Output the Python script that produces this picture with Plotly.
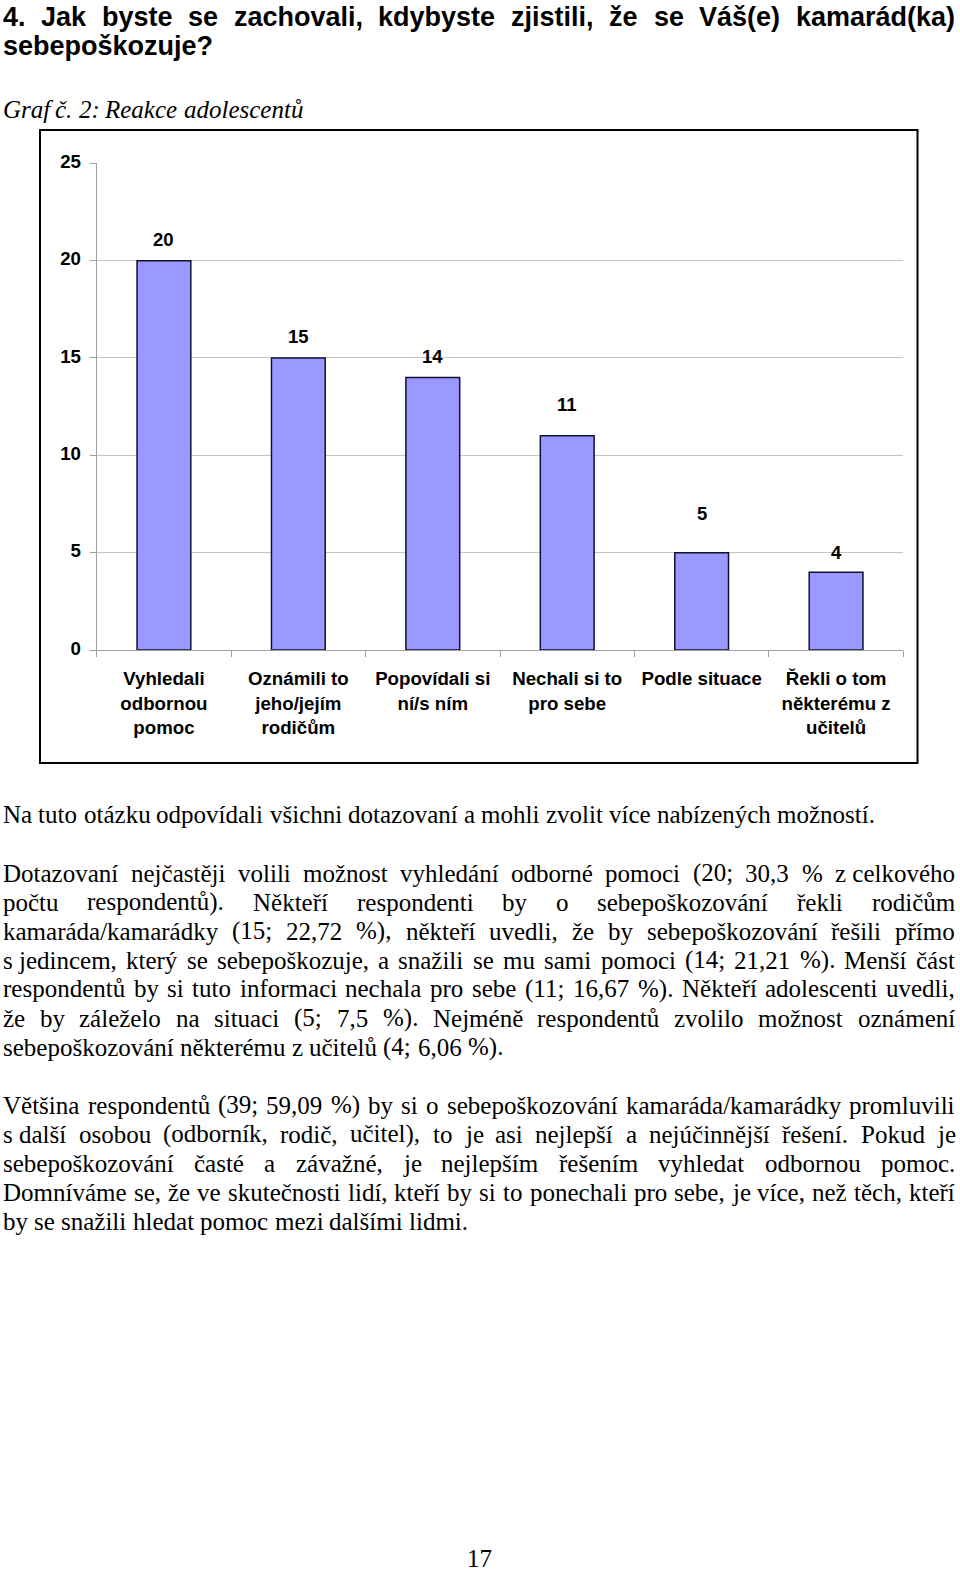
import unicodedata
import plotly.graph_objects as go

# ---------------- data ----------------
categories = [
    "Vyhledali<br>odbornou<br>pomoc",
    "Oznámili to<br>jeho/jejím<br>rodičům",
    "Popovídali si<br>ní/s ním",
    "Nechali si to<br>pro sebe",
    "Podle situace",
    "Řekli o tom<br>některému z<br>učitelů",
]
counts = [20, 15, 14, 11, 5, 4]
y_ticks = [0, 5, 10, 15, 20, 25]

heading_lines = [
    "4. Jak byste se zachovali, kdybyste zjistili, že se Váš(e) kamarád(ka)",
    "sebepoškozuje?",
]
caption = "Graf č. 2: Reakce adolescentů"
paragraphs = [
    ["Na tuto otázku odpovídali všichni dotazovaní a mohli zvolit více nabízených možností."],
    [
        "Dotazovaní nejčastěji volili možnost vyhledání odborné pomoci (20; 30,3 % z\u00a0celkového",
        "počtu respondentů). Někteří respondenti by o sebepoškozování řekli rodičům",
        "kamaráda/kamarádky (15; 22,72 %), někteří uvedli, že by sebepoškozování řešili přímo",
        "s\u00a0jedincem, který se sebepoškozuje, a snažili se mu sami pomoci (14; 21,21 %). Menší část",
        "respondentů by si tuto informaci nechala pro sebe (11; 16,67 %). Někteří adolescenti uvedli,",
        "že by záleželo na situaci (5; 7,5 %). Nejméně respondentů zvolilo možnost oznámení",
        "sebepoškozování některému z učitelů (4; 6,06 %).",
    ],
    [
        "Většina respondentů (39; 59,09 %) by si o sebepoškozování kamaráda/kamarádky promluvili",
        "s\u00a0další osobou (odborník, rodič, učitel), to je asi nejlepší a nejúčinnější řešení. Pokud je",
        "sebepoškozování časté a závažné, je nejlepším řešením vyhledat odbornou pomoc.",
        "Domníváme se, že ve skutečnosti lidí, kteří by si to ponechali pro sebe, je více, než těch, kteří",
        "by se snažili hledat pomoc mezi dalšími lidmi.",
    ],
]
page_number = "17"

# ---------------- styles ----------------
W, H = 960, 1573
label_offsets = [21, 21, 21, 31, 39, 20]
bar_color = "#9999FF"
SANS = "Liberation Sans, Arial, sans-serif"
SERIF = "Liberation Serif, Times New Roman, serif"

TIMES = dict(zip("abcdefghijklmnopqrstuvwxyz",
                 [444, 500, 444, 500, 444, 333, 500, 500, 278, 278, 500, 278, 778,
                  500, 500, 500, 500, 333, 389, 278, 500, 500, 722, 500, 500, 444]))
TIMES.update(zip("ABCDEFGHIJKLMNOPQRSTUVWXYZ",
                 [722, 667, 667, 722, 611, 556, 722, 722, 333, 389, 722, 611, 889,
                  722, 722, 556, 722, 667, 556, 611, 722, 722, 944, 722, 722, 611]))
TIMES.update({d: 500 for d in "0123456789"})
TIMES.update({" ": 250, "\u00a0": 250, ".": 250, ",": 250, ";": 278, ":": 278,
              "(": 333, ")": 333, "%": 833, "/": 278, "-": 333, "?": 444})

ARIALB = dict(zip("abcdefghijklmnopqrstuvwxyz",
                  [556, 611, 556, 611, 556, 333, 611, 611, 278, 278, 556, 278, 889,
                   611, 611, 611, 611, 389, 556, 333, 611, 556, 778, 556, 556, 500]))
ARIALB.update(zip("ABCDEFGHIJKLMNOPQRSTUVWXYZ",
                  [722, 722, 722, 722, 667, 611, 778, 722, 278, 556, 722, 611, 833,
                   722, 778, 667, 778, 722, 667, 611, 722, 667, 944, 667, 667, 611]))
ARIALB.update({d: 556 for d in "0123456789"})
ARIALB.update({" ": 278, "\u00a0": 278, ".": 278, ",": 278, ";": 333, ":": 333,
               "(": 333, ")": 333, "?": 611, "/": 278})


def tw(s, table, size):
    tot = 0
    for ch in s:
        base = unicodedata.normalize("NFD", ch)[0]
        tot += table.get(ch, table.get(base, 500))
    return tot * size / 1000.0


annotations = []


def add_line(line, ypx, size, family, table, justify, left=3, right=955, bold=False, italic=False):
    tokens = line.split(" ")
    widths = [tw(t, table, size) for t in tokens]
    space = table[" "] * size / 1000.0
    if justify and len(tokens) > 1:
        gap = (right - left - sum(widths)) / (len(tokens) - 1)
        gap = max(gap, space * 0.5)
    else:
        gap = space
    x = left
    for t, w in zip(tokens, widths):
        txt = t.replace("\u00a0", " ")
        if bold:
            txt = "<b>" + txt + "</b>"
        if italic:
            txt = "<i>" + txt + "</i>"
        annotations.append(dict(
            x=x / W, y=1 - ypx / H, xref="paper", yref="paper",
            xanchor="left", yanchor="middle", showarrow=False,
            text=txt, borderpad=0, borderwidth=0,
            font=dict(family=family, size=size, color="black"),
        ))
        x += w + gap


# heading
add_line(heading_lines[0], 17, 27, SANS, ARIALB, True, bold=True)
add_line(heading_lines[1], 46, 27, SANS, ARIALB, False, bold=True)
# caption
add_line(caption, 109, 25, SERIF, TIMES, False, italic=True)
# paragraphs
para_y = [[815], [873, 902, 931, 960, 989, 1018, 1047], [1105, 1134, 1163, 1192, 1221]]
for lines, ys in zip(paragraphs, para_y):
    for i, (ln, yy) in enumerate(zip(lines, ys)):
        add_line(ln, yy, 25, SERIF, TIMES, i < len(lines) - 1)

annotations.append(dict(
    x=479 / W, y=1 - 1558 / H, xref="paper", yref="paper", xanchor="center",
    yanchor="middle", showarrow=False, text=page_number,
    font=dict(family=SERIF, size=25, color="black"),
))

# data labels
for c, v, off in zip(categories, counts, label_offsets):
    annotations.append(dict(
        x=c, y=v, xref="x", yref="y", yshift=off, showarrow=False,
        xanchor="center", yanchor="middle", text="<b>%d</b>" % v,
        font=dict(family=SANS, size=18.5, color="black"),
    ))

fig = go.Figure(go.Bar(
    x=categories, y=counts,
    marker=dict(color=bar_color, line=dict(color="#101030", width=1.5)),
    hoverinfo="x+y",
))

plot_left, plot_right = 96.7, 903.3
plot_top, plot_bottom = 163.3, 650.0

fig.update_layout(
    width=W, height=H,
    margin=dict(l=0, r=0, t=0, b=0, pad=0, autoexpand=False),
    paper_bgcolor="white", plot_bgcolor="white",
    showlegend=False, bargap=0.6,
    annotations=annotations,
    shapes=[dict(type="rect", xref="paper", yref="paper",
                 x0=40 / W, x1=917.5 / W, y0=1 - 763 / H, y1=1 - 130 / H,
                 line=dict(color="black", width=2), fillcolor="rgba(0,0,0,0)",
                 layer="below")],
    xaxis=dict(
        domain=[plot_left / W, plot_right / W], automargin=False,
        type="category", tickson="boundaries", ticks="outside", ticklen=6,
        tickcolor="#a0a0a0", showline=True, linecolor="#a0a0a0", linewidth=1,
        showgrid=False, ticklabelstandoff=12,
        tickfont=dict(family=SANS, size=18.7, color="black", weight="bold"),
    ),
    yaxis=dict(
        domain=[1 - plot_bottom / H, 1 - plot_top / H], automargin=False,
        range=[0, 25], tickvals=y_ticks, ticktext=[str(t) for t in y_ticks],
        ticks="outside", ticklen=6, tickcolor="#a0a0a0",
        showline=True, linecolor="#a0a0a0", linewidth=1,
        showgrid=True, gridcolor="#c4c4c4", gridwidth=1, zeroline=False,
        ticklabelstandoff=5, ticklabelshift=-2,
        tickfont=dict(family=SANS, size=18.7, color="black", weight="bold"),
    ),
)

fig.write_html("out.html")
